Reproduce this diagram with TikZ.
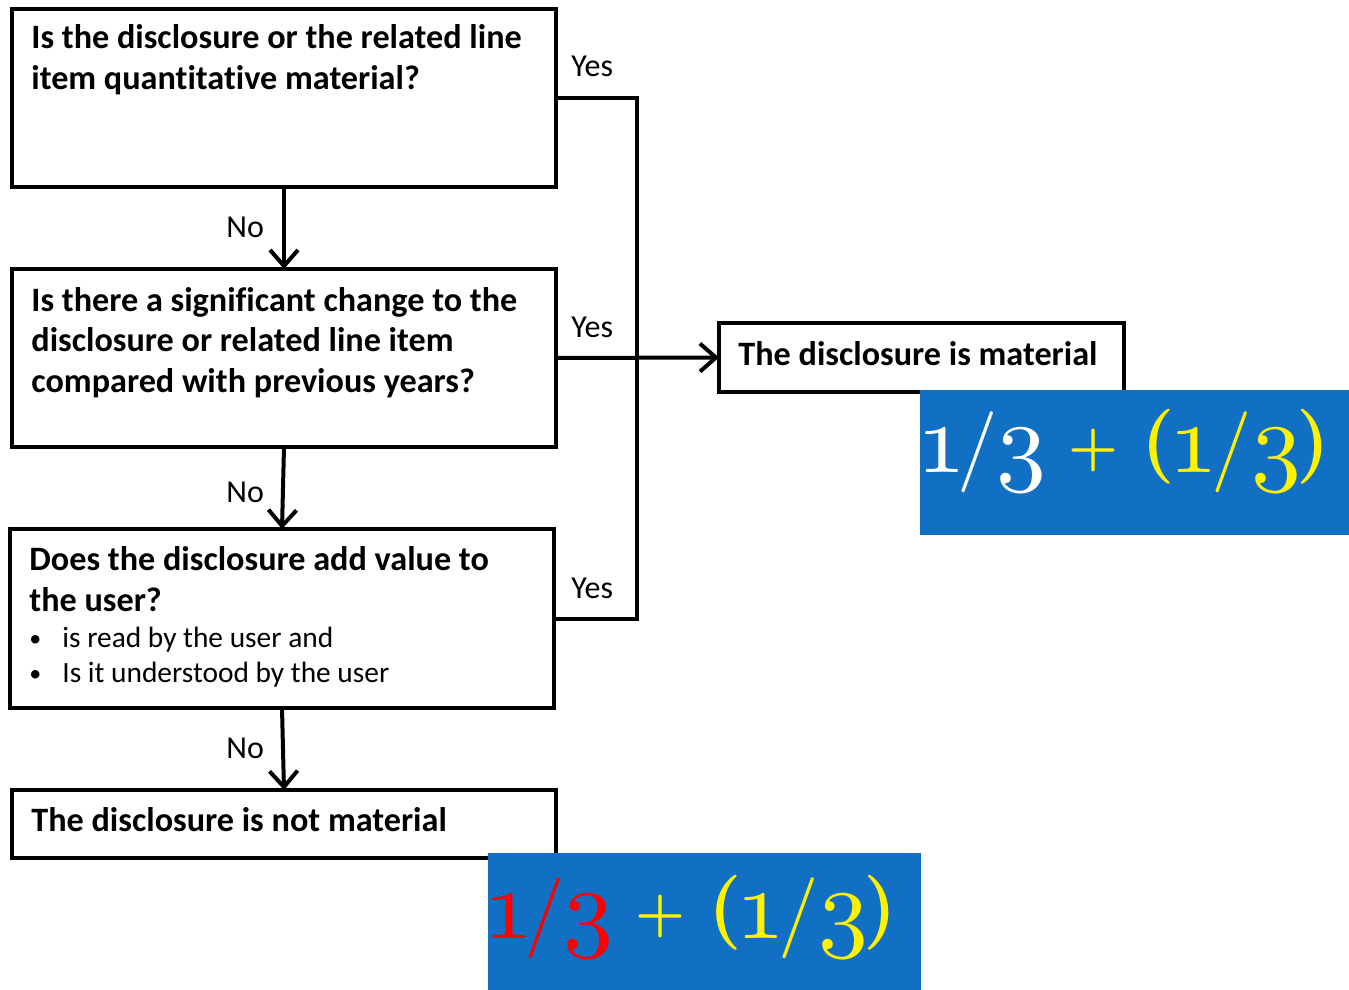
\documentclass[tikz,border=0pt]{standalone}
\usepackage{graphicx}
\usepackage{fontspec}
\setmainfont{Carlito}[Ligatures=NoCommon]
\usetikzlibrary{arrows.meta}
\definecolor{pblue}{RGB}{17,112,196}
\newcommand{\osd}[1]{\scalebox{5}{\usefont{OML}{cmm}{m}{it}#1}}
\newcommand{\crm}[2]{\scalebox{#1}{\usefont{OT1}{cmr}{m}{n}#2}}
\newcommand{\cbx}[2]{\scalebox{#1}{\usefont{OT1}{cmr}{bx}{n}#2}}
\newcommand{\mathexpr}[2]{%
 \textcolor{#1}{\osd{1}\hspace{-4.75pt}\crm{4.05}{/}\hspace{-0.75pt}\osd{3}}%
 \hspace{10.95pt}%
 \textcolor{#2}{\raisebox{4pt}{\cbx{2.8}{+}}\hspace{11.5pt}\raisebox{3.5pt}{\cbx{3.75}{(}}\hspace{-3.25pt}\osd{1}\hspace{-3.6pt}\crm{4.05}{/}\hspace{0.1pt}\osd{3}\hspace{-2.6pt}\raisebox{3.5pt}{\cbx{3.75}{)}}}}
\begin{document}
\begin{tikzpicture}[x=0.5pt,y=-0.5pt,
 box/.style={draw=black, line width=2pt, rectangle, inner sep=0pt, outer sep=0pt, anchor=north west},
 bt/.style={font=\bfseries\fontsize{17.1}{20.5}\selectfont, anchor=base west, inner sep=0pt},
 st/.style={font=\fontsize{14.7}{17}\selectfont, anchor=base west, inner sep=0pt},
 lbl/.style={font=\fontsize{16}{19}\selectfont, anchor=base west, inner sep=0pt},
 conn/.style={line width=2pt},
 arr/.style={line width=2pt, -{Straight Barb[length=8pt,width=14pt]}},
 bluebox/.style={fill=pblue, inner sep=0pt, outer sep=0pt, anchor=north west},
 mth/.style={anchor=base west, inner sep=0pt}]
\useasboundingbox (0,0) rectangle (1349,990);

% boxes
\node[box, minimum width=272pt, minimum height=89pt] (b1) at (12,9) {};
\node[box, minimum width=272pt, minimum height=89pt] (b2) at (12,269) {};
\node[box, minimum width=272pt, minimum height=89.5pt] (b3) at (10,529) {};
\node[box, minimum width=272pt, minimum height=34pt] (b4) at (12,790) {};
\node[box, minimum width=202.5pt, minimum height=34.5pt] (mat) at (719,323) {};

% texts
\node[bt] (t1a) at (31,49) {Is the disclosure or the related line};
\node[bt] (t1b) at (31,90) {item quantitative material?};
\node[bt] (t2a) at (31,311) {Is there a significant change to the};
\node[bt] (t2b) at (31,351) {disclosure or related line item};
\node[bt] (t2c) at (31,392) {compared with previous years?};
\node[bt] (t3a) at (29,570) {Does the disclosure add value to};
\node[bt] (t3b) at (29,611) {the user?};
\node[st, font=\fontsize{12}{14}\selectfont] (bu1) at (29,646) {•};
\node[st] (t3c) at (62,647) {is read by the user and};
\node[st, font=\fontsize{12}{14}\selectfont] (bu2) at (29,681) {•};
\node[st] (t3d) at (62,682) {Is it understood by the user};
\node[bt] (t4) at (31,831) {The disclosure is not material};
\node[bt] (tm) at (738,365) {The disclosure is material};

% labels
\node[lbl] (y1) at (571,77) {Yes};
\node[lbl] (y2) at (571,337) {Yes};
\node[lbl] (y3) at (571,598) {Yes};
\node[lbl] (n1) at (226,237) {No};
\node[lbl] (n2) at (226,502) {No};
\node[lbl] (n3) at (226,758) {No};

% connectors
\coordinate (bus) at (637,358);
\draw[arr] (b1.south) -- (b2.north);
\draw[arr] (b2.south) -- (b3.north);
\draw[arr] (b3.south) -- (b4.north);
\draw[conn] (b1.east) -| (bus) |- (b3.east);
\draw[arr] (b2.east) -- (mat.west);

% blue overlays
\node[bluebox, minimum width=214.5pt, minimum height=72.5pt] (bb1) at (920,390) {};
\node[mth] (m1) at (916.5,472) {\mathexpr{white}{yellow}};
\node[bluebox, minimum width=216.5pt, minimum height=68.5pt] (bb2) at (488,853) {};
\node[mth] (m2) at (483.5,938) {\mathexpr{red}{yellow}};
\end{tikzpicture}
\end{document}
